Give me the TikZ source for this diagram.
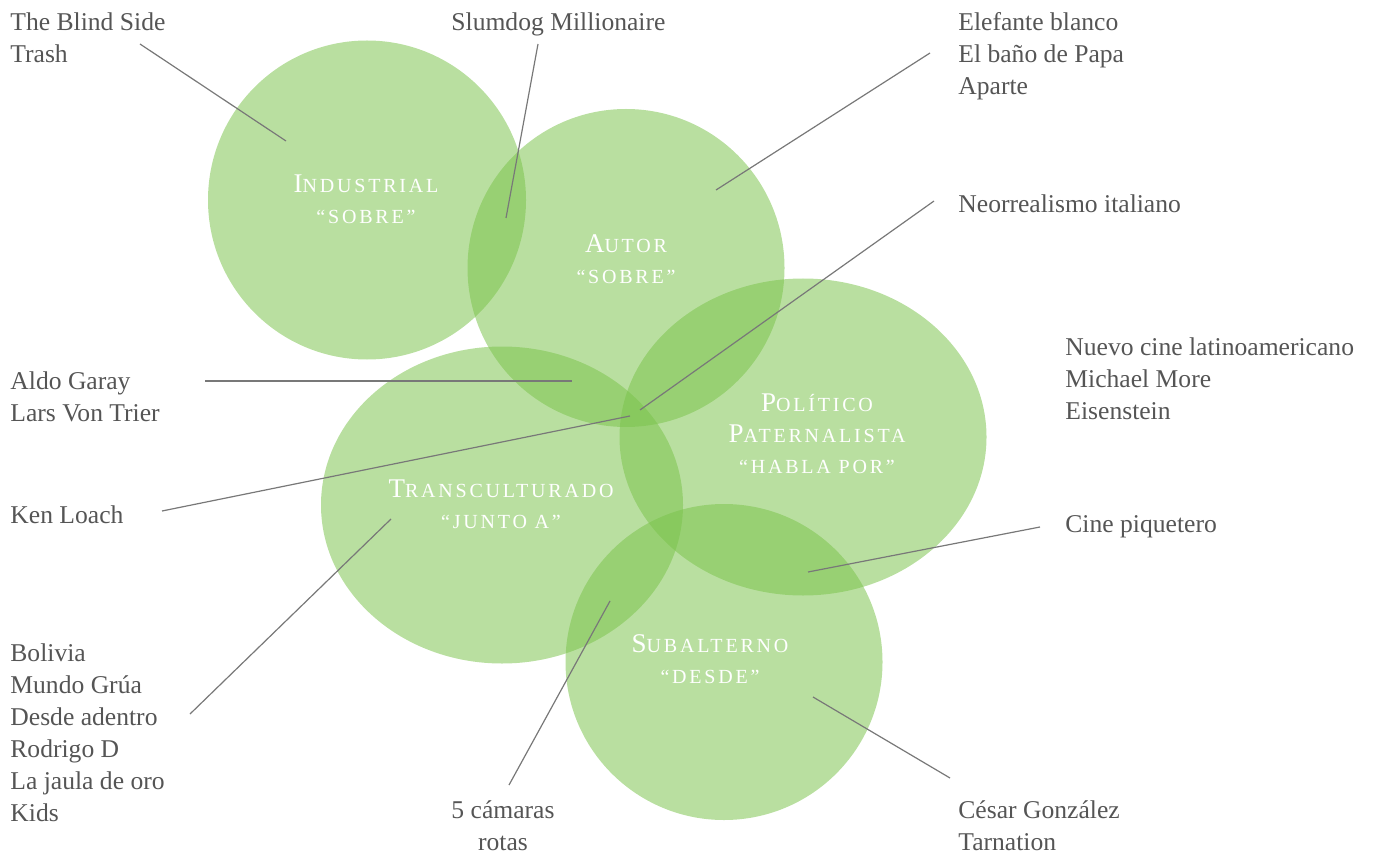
\documentclass[tikz,border=0pt]{standalone}
\usepackage{fontspec}
\setmainfont{Liberation Serif}
\newfontfamily\capsfont[LetterSpace=14]{Liberation Serif}
\usetikzlibrary{shapes.geometric}
\definecolor{circgreen}{RGB}{123,195,76}
\definecolor{textgray}{RGB}{85,85,85}
\definecolor{linkgray}{RGB}{120,120,120}
\newcommand\initcap[1]{{\fontsize{13.5}{15.5}\selectfont #1}}

\begin{document}
\begin{tikzpicture}[x=0.5pt,y=-0.5pt,
    circ/.style={ellipse,inner sep=0pt,fill=circgreen,fill opacity=0.53},
    caption/.style={text=white,align=center,font=\capsfont\fontsize{10}{15.5}\selectfont},
    film/.style={text=textgray,align=left,anchor=north west,inner sep=0pt,
      font=\fontsize{12.8}{16}\selectfont},
    link/.style={draw=linkgray,line width=0.6pt}]
  \useasboundingbox (0,0) rectangle (1384,855);

  \node[circ,minimum width=159pt,minimum height=159.5pt] (ind) at (367,200) {};
  \node[circ,minimum width=158.5pt,minimum height=159pt] (aut) at (626,268) {};
  \node[circ,minimum width=183.5pt,minimum height=158.5pt] (pol) at (803,437) {};
  \node[circ,minimum width=181pt,minimum height=158.5pt] (tra) at (502,505) {};
  \node[circ,minimum width=158.5pt,minimum height=158pt] (sub) at (724,662) {};

  \node[caption] (ind-t) at (366,199) {\initcap{I}NDUSTRIAL\\“SOBRE”};
  \node[caption] (aut-t) at (626,259) {\initcap{A}UTOR\\“SOBRE”};
  \node[caption] (pol-t) at (817,434) {\initcap{P}OLÍTICO\\\initcap{P}ATERNALISTA\\“HABLA POR”};
  \node[caption] (tra-t) at (501,504) {\initcap{T}RANSCULTURADO\\“JUNTO A”};
  \node[caption] (sub-t) at (710,659) {\initcap{S}UBALTERNO\\“DESDE”};

  \node[film] (blind) at (10,12) {The Blind Side\\Trash};
  \node[film] (slum) at (451,12) {Slumdog Millionaire};
  \node[film] (elef) at (958,12) {Elefante blanco\\El baño de Papa\\Aparte};
  \node[film] (neo) at (958,194) {Neorrealismo italiano};
  \node[film] (nuevo) at (1065,337) {Nuevo cine latinoamericano\\Michael More\\Eisenstein};
  \node[film] (aldo) at (10,371) {Aldo Garay\\Lars Von Trier};
  \node[film] (ken) at (10,505) {Ken Loach};
  \node[film] (piq) at (1065,515) {Cine piquetero};
  \node[film] (boli) at (10,643) {Bolivia\\Mundo Grúa\\Desde adentro\\Rodrigo D\\La jaula de oro\\Kids};
  \node[film,align=center,anchor=north] (cam) at (503,800) {5 cámaras\\rotas};
  \node[film] (cesar) at (958,800) {César González\\Tarnation};

  \coordinate (blind-a) at (140,44);   \coordinate (blind-b) at (286,141);
  \coordinate (slum-a) at (538,44);    \coordinate (slum-b) at (506,218);
  \coordinate (elef-a) at (930,53);    \coordinate (elef-b) at (716,190);
  \coordinate (neo-a) at (934,201);    \coordinate (neo-b) at (640,410);
  \coordinate (aldo-a) at (205,381);   \coordinate (aldo-b) at (572,381);
  \coordinate (ken-a) at (162,511);    \coordinate (ken-b) at (630,416);
  \coordinate (boli-a) at (190,714);   \coordinate (boli-b) at (391,519);
  \coordinate (cam-a) at (509,785);    \coordinate (cam-b) at (610,601);
  \coordinate (piq-a) at (1040,527);   \coordinate (piq-b) at (808,572);
  \coordinate (cesar-a) at (950,778);  \coordinate (cesar-b) at (813,697);

  \path[link]
    (blind-a) edge (blind-b)
    (slum-a) edge (slum-b)
    (elef-a) edge (elef-b)
    (neo-a) edge (neo-b)
    (aldo-a) edge (aldo-b)
    (ken-a) edge (ken-b)
    (boli-a) edge (boli-b)
    (cam-a) edge (cam-b)
    (piq-a) edge (piq-b)
    (cesar-a) edge (cesar-b);
\end{tikzpicture}
\end{document}
